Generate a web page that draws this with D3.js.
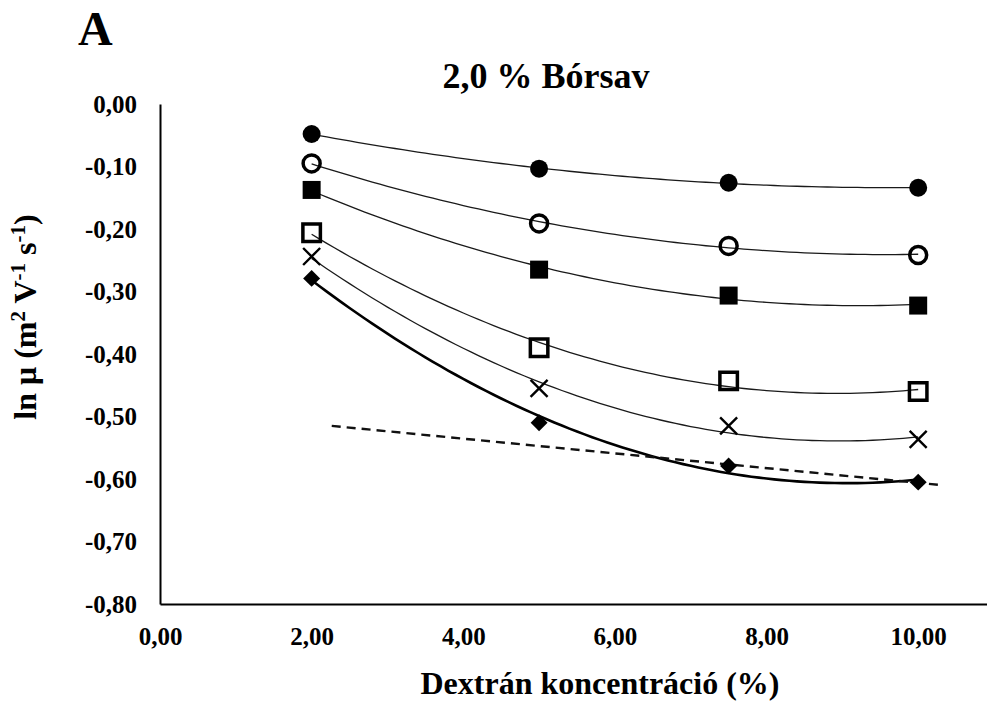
<!DOCTYPE html>
<html>
<head>
<meta charset="utf-8">
<script src="https://cdn.jsdelivr.net/npm/d3@7"></script>
<style>
  body { margin: 0; background: #fff; }
  text { font-family: "Liberation Serif", "Times New Roman", serif; font-weight: bold; fill: #000; }
</style>
</head>
<body>
<svg id="chart" width="987" height="704"></svg>
<script>
// Dextran concentration (%)
const dextran = [2, 5, 7.5, 10];

// ln mu values, one array per series (top to bottom)
const filledCircle = [-0.048, -0.1035, -0.126, -0.134];
const openCircle = [-0.095, -0.191, -0.227, -0.2415];
const filledSquare = [-0.1375, -0.265, -0.3065, -0.3225];
const openSquare = [-0.206, -0.390, -0.443, -0.460];
const crossMark = [-0.244, -0.455, -0.515, -0.5365];
const filledDiamond = [-0.279, -0.510, -0.579, -0.605];

// dashed straight line, ends
const dashedX = [2.265, 10.29];
const dashedY = [-0.515, -0.6096];

const xTicks = [0, 2, 4, 6, 8, 10];
const yTicks = [0, -0.1, -0.2, -0.3, -0.4, -0.5, -0.6, -0.7, -0.8];

const svg = d3.select("#chart");

const x = d3.scaleLinear().domain([0, 11]).range([160, 994]);
const y = d3.scaleLinear().domain([-0.8, 0]).range([604, 104]);

const fmt = d => d.toFixed(2).replace(".", ",");

// custom "x" marker
const symbolXMark = {
  draw(ctx, size) {
    const r = Math.sqrt(size) / 2;
    ctx.moveTo(-r, -r); ctx.lineTo(r, r);
    ctx.moveTo(r, -r); ctx.lineTo(-r, r);
  }
};

const series = [
  { values: filledCircle, type: d3.symbolCircle, size: 254, fill: "#000", stroke: "none", sw: 0, rot: 0, lw: 1.3 },
  { values: openCircle, type: d3.symbolCircle, size: 227, fill: "none", stroke: "#000", sw: 3.5, rot: 0, lw: 1.3 },
  { values: filledSquare, type: d3.symbolSquare, size: 324, fill: "#000", stroke: "none", sw: 0, rot: 0, lw: 1.3 },
  { values: openSquare, type: d3.symbolSquare, size: 306, fill: "none", stroke: "#000", sw: 3.5, rot: 0, lw: 1.3 },
  { values: crossMark, type: symbolXMark, size: 289, fill: "none", stroke: "#000", sw: 2.4, rot: 0, lw: 1.3 },
  { values: filledDiamond, type: d3.symbolSquare, size: 144, fill: "#000", stroke: "none", sw: 0, rot: 45, lw: 2.6 }
];

// least squares 2nd order polynomial (like the spreadsheet trendline)
function quadFit(xs, ys) {
  const S = [0, 0, 0, 0, 0], T = [0, 0, 0];
  xs.forEach((xv, i) => {
    for (let k = 0; k < 5; k++) S[k] += Math.pow(xv, k);
    for (let k = 0; k < 3; k++) T[k] += ys[i] * Math.pow(xv, k);
  });
  const M = [[S[0], S[1], S[2], T[0]], [S[1], S[2], S[3], T[1]], [S[2], S[3], S[4], T[2]]];
  for (let i = 0; i < 3; i++) {
    for (let j = i + 1; j < 3; j++) {
      const f = M[j][i] / M[i][i];
      for (let k = i; k < 4; k++) M[j][k] -= f * M[i][k];
    }
  }
  const c = [0, 0, 0];
  for (let i = 2; i >= 0; i--) {
    let s = M[i][3];
    for (let k = i + 1; k < 3; k++) s -= M[i][k] * c[k];
    c[i] = s / M[i][i];
  }
  return xv => c[0] + c[1] * xv + c[2] * xv * xv;
}

// axes
const xAxis = svg.append("g")
  .attr("transform", "translate(0," + y(-0.8) + ")")
  .call(d3.axisBottom(x).tickValues(xTicks).tickFormat(fmt).tickSize(0).tickSizeOuter(0).tickPadding(23));
const yAxis = svg.append("g")
  .attr("transform", "translate(" + x(0) + ",0)")
  .call(d3.axisLeft(y).tickValues(yTicks).tickFormat(fmt).tickSize(0).tickSizeOuter(0).tickPadding(23));

[xAxis, yAxis].forEach(g => {
  g.attr("font-family", "Liberation Serif, Times New Roman, serif").attr("font-size", 25);
  g.select(".domain").attr("stroke", "#000").attr("stroke-width", 2);
});

// trendlines
const line = d3.line().x(d => x(d[0])).y(d => y(d[1]));
const xs = d3.range(2, 10.001, 0.1);

series.forEach(s => {
  const f = quadFit(dextran, s.values);
  svg.append("path")
    .datum(xs.map(v => [v, f(v)]))
    .attr("fill", "none")
    .attr("stroke", s.lw > 2 ? "#000" : "#1a1a1a")
    .attr("stroke-width", s.lw)
    .attr("d", line);
});

// dashed line
svg.append("path")
  .datum(dashedX.map((v, i) => [v, dashedY[i]]))
  .attr("fill", "none")
  .attr("stroke", "#111")
  .attr("stroke-width", 2.4)
  .attr("stroke-dasharray", "9,6")
  .attr("d", line);

// markers
series.forEach(s => {
  svg.append("g")
    .selectAll("path")
    .data(s.values)
    .join("path")
    .attr("transform", (d, i) => "translate(" + x(dextran[i]) + "," + y(d) + ") rotate(" + s.rot + ")")
    .attr("d", d3.symbol().type(s.type).size(s.size))
    .attr("fill", s.fill)
    .attr("stroke", s.stroke)
    .attr("stroke-width", s.sw);
});

// texts
svg.append("text")
  .attr("x", 78).attr("y", 45)
  .style("font-size", "48px")
  .text("A");

svg.append("text")
  .attr("x", 546).attr("y", 88)
  .attr("text-anchor", "middle")
  .style("font-size", "36px")
  .text("2,0 % Bórsav");

svg.append("text")
  .attr("x", 600).attr("y", 694)
  .attr("text-anchor", "middle")
  .style("font-size", "32px")
  .text("Dextrán koncentráció (%)");

const yl = svg.append("text")
  .attr("transform", "translate(36,317) rotate(-90)")
  .attr("text-anchor", "middle")
  .style("font-size", "32px");
yl.append("tspan").text("ln μ (m");
yl.append("tspan").attr("dy", -11).style("font-size", "21px").text("2");
yl.append("tspan").attr("dy", 11).text(" V");
yl.append("tspan").attr("dy", -11).style("font-size", "21px").text("-1");
yl.append("tspan").attr("dy", 11).text(" s");
yl.append("tspan").attr("dy", -11).style("font-size", "21px").text("-1");
yl.append("tspan").attr("dy", 11).text(")");
</script>
</body>
</html>
